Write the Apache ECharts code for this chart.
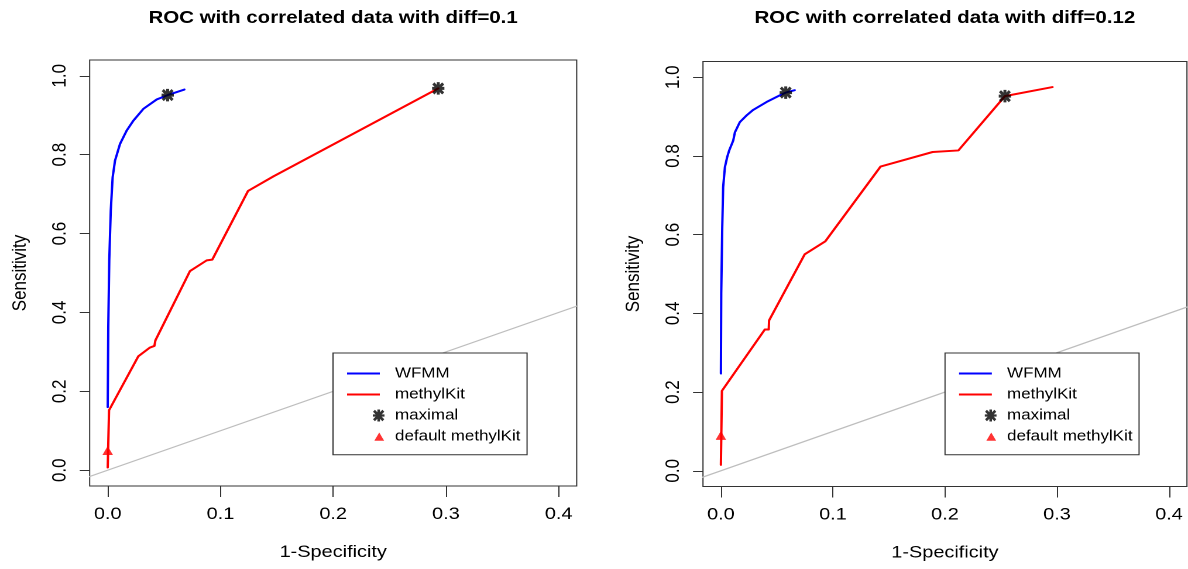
<!DOCTYPE html>
<html>
<head>
<meta charset="utf-8">
<script src="https://cdn.jsdelivr.net/npm/echarts@6.0.0/dist/echarts.min.js"></script>
<style>
  html, body { margin: 0; padding: 0; background: #fff; overflow: hidden; }
  /* the figure is laid out on a 1015px-wide stage and stretched to the window width */
  #stage { width: 1015px; height: 569px; transform: scaleX(1.17044); transform-origin: 0 0; }
</style>
</head>
<body>
<div id="stage"></div>
<script>
// ---- data -------------------------------------------------------------
const titles = ['ROC with correlated data with diff=0.1', 'ROC with correlated data with diff=0.12'];
const xTicks = [0, 0.1, 0.2, 0.3, 0.4];
const yTicks = [0, 0.2, 0.4, 0.6, 0.8, 1.0];
const legendNames = ['WFMM', 'methylKit', 'maximal', 'default methylKit'];

// panel 1 (diff = 0.1)
const wfmmFpr1 = [0.0000, 0.0005, 0.0014, 0.0027, 0.0044, 0.0065, 0.0109, 0.0168, 0.0227, 0.0316, 0.0435, 0.0532, 0.0680];
const wfmmTpr1 = [0.160, 0.363, 0.532, 0.658, 0.743, 0.785, 0.827, 0.861, 0.886, 0.916, 0.940, 0.951, 0.965];
const kitFpr1 = [0.0000, 0.0012, 0.0272, 0.0375, 0.0414, 0.0423, 0.0730, 0.0878, 0.0928, 0.1245, 0.1470, 0.2932];
const kitTpr1 = [0.007, 0.152, 0.289, 0.311, 0.315, 0.329, 0.505, 0.532, 0.534, 0.708, 0.745, 0.968];
const maxFpr1 = [0.0532, 0.2932];
const maxTpr1 = [0.951, 0.968];
const defFpr1 = [0.0];
const defTpr1 = [0.05];

// panel 2 (diff = 0.12)
const wfmmFpr2 = [0.0000, 0.0003, 0.0012, 0.0020, 0.0036, 0.0056, 0.0074, 0.0110, 0.0125, 0.0169, 0.0229, 0.0288, 0.0407, 0.0525, 0.0579, 0.0659];
const wfmmTpr2 = [0.247, 0.450, 0.619, 0.721, 0.772, 0.797, 0.814, 0.839, 0.860, 0.886, 0.903, 0.917, 0.937, 0.954, 0.961, 0.967];
const kitFpr2 = [0.0000, 0.0009, 0.0392, 0.0427, 0.0430, 0.0748, 0.0932, 0.1425, 0.1890, 0.2120, 0.2535, 0.2960];
const kitTpr2 = [0.015, 0.203, 0.359, 0.359, 0.382, 0.550, 0.583, 0.773, 0.810, 0.814, 0.952, 0.975];
const maxFpr2 = [0.0579, 0.2535];
const maxTpr2 = [0.961, 0.952];
const defFpr2 = [0.0];
const defTpr2 = [0.09];

// chance line y = x (clipped to the plot box)
const chanceX = [-1, 1];
const chanceY = [-1, 1];

// ---- styling ------------------------------------------------------------
const FONT = '"Liberation Sans", Arial, Helvetica, sans-serif';
const BLUE = '#0000ff', RED = '#ff0000', BLACK = '#000000', GREY = '#bebebe', FRAME = '#333333';

// asterisk (plus + cross) glyph
const STAR = 'path://M7.6,0h4.8v20h-4.8z M0,7.6h20v4.8h-20z M3.7,0.3L19.7,16.3L16.3,19.7L0.3,3.7z M16.3,0.3L19.7,3.7L3.7,19.7L0.3,16.3z';
// legend keys drawn inside a 36x14 box
const KEY_LINE = 'path://M0,0M36,14M0,6h28v2h-28z';
const KEY_STAR = 'path://M0,0M36,14M25.9,1h2.2v12h-2.2z M22,5.9h10v2.2h-10z M23.8,1.2L31.8,10.8L30.2,12.8L22.2,3.2z M30.2,1.2L31.8,3.2L23.8,12.8L22.2,10.8z';
const KEY_TRI = 'path://M0,0M36,14M27.5,3L31.7,11.2L23.3,11.2z';

const zip = (xs, ys) => xs.map((x, i) => [x, ys[i]]);

const panels = [
  { title: titles[0], cx: 284.6, grid: { left: 76.6, top: 60, width: 416.1, height: 426 }, legend: { left: 284.5, top: 353 },
    wfmm: zip(wfmmFpr1, wfmmTpr1), kit: zip(kitFpr1, kitTpr1), max: zip(maxFpr1, maxTpr1), def: zip(defFpr1, defTpr1) },
  { title: titles[1], cx: 807.3, grid: { left: 600.6, top: 61.5, width: 413.5, height: 425 }, legend: { left: 807.4, top: 353 },
    wfmm: zip(wfmmFpr2, wfmmTpr2), kit: zip(kitFpr2, kitTpr2), max: zip(maxFpr2, maxTpr2), def: zip(defFpr2, defTpr2) }
];

const axisText = { fontSize: 17, color: BLACK, fontFamily: FONT };
const fmt = v => Number(v).toFixed(1);

const option = {
  animation: false,
  backgroundColor: '#ffffff',
  title: [], grid: [], xAxis: [], yAxis: [], legend: [], series: []
};

panels.forEach((p, i) => {
  option.title.push({
    text: p.title, left: p.cx, top: 9, textAlign: 'center', padding: 0,
    textStyle: { fontSize: 17.5, fontWeight: 'bold', color: BLACK, fontFamily: FONT }
  });
  option.grid.push(Object.assign({
    show: true, borderColor: FRAME, borderWidth: 1, backgroundColor: 'transparent',
    containLabel: false, outerBoundsMode: 'none'
  }, p.grid));
  option.xAxis.push({
    type: 'value', gridIndex: i, min: -0.016, max: 0.416, position: 'bottom',
    axisLine: { show: false, onZero: false }, splitLine: { show: false },
    axisTick: { show: true, inside: false, length: 11, customValues: xTicks, lineStyle: { color: FRAME, width: 1 } },
    axisLabel: Object.assign({ customValues: xTicks, formatter: fmt, margin: 20 }, axisText),
    name: '1-Specificity', nameLocation: 'middle', nameGap: 58, nameTextStyle: axisText
  });
  option.yAxis.push({
    type: 'value', gridIndex: i, min: -0.04, max: 1.04, position: 'left',
    axisLine: { show: false, onZero: false }, splitLine: { show: false },
    axisTick: { show: true, inside: false, length: 8.5, customValues: yTicks, lineStyle: { color: FRAME, width: 1 } },
    axisLabel: Object.assign({ customValues: yTicks, formatter: fmt, rotate: 90, margin: 17 }, axisText),
    name: 'Sensitivity', nameLocation: 'middle', nameGap: 51, nameTextStyle: axisText
  });
  option.legend.push({
    show: true, orient: 'vertical', left: p.legend.left, top: p.legend.top,
    padding: [13, 5.6, 10.7, 12], itemGap: 6, itemWidth: 36, itemHeight: 14,
    backgroundColor: '#ffffff', borderColor: FRAME, borderWidth: 1, borderRadius: 0,
    selectedMode: false, z: 10,
    itemStyle: { borderWidth: 0 },
    textStyle: { fontSize: 14.5, color: BLACK, fontFamily: FONT },
    data: [
      { name: legendNames[0], icon: KEY_LINE, itemStyle: { color: BLUE } },
      { name: legendNames[1], icon: KEY_LINE, itemStyle: { color: RED } },
      { name: legendNames[2], icon: KEY_STAR, itemStyle: { color: BLACK } },
      { name: legendNames[3], icon: KEY_TRI, itemStyle: { color: RED } }
    ]
  });
  option.series.push(
    { type: 'line', name: 'chance', xAxisIndex: i, yAxisIndex: i, data: zip(chanceX, chanceY),
      symbol: 'none', silent: true, clip: true, z: 1, lineStyle: { color: GREY, width: 1.2 } },
    { type: 'line', name: legendNames[0], xAxisIndex: i, yAxisIndex: i, data: p.wfmm, color: BLUE,
      symbol: 'none', showSymbol: false, z: 2, lineStyle: { color: BLUE, width: 2, cap: 'round', join: 'round' } },
    { type: 'line', name: legendNames[1], xAxisIndex: i, yAxisIndex: i, data: p.kit, color: RED,
      symbol: 'none', showSymbol: false, z: 2, lineStyle: { color: RED, width: 2, cap: 'round', join: 'round' } },
    { type: 'scatter', name: legendNames[2], xAxisIndex: i, yAxisIndex: i, data: p.max, color: BLACK,
      symbol: STAR, symbolSize: [10.5, 12.5], symbolKeepAspect: false, z: 3, itemStyle: { color: BLACK } },
    { type: 'scatter', name: legendNames[3], xAxisIndex: i, yAxisIndex: i, data: p.def, color: RED,
      symbol: 'triangle', symbolSize: [9, 9], z: 3, itemStyle: { color: RED } }
  );
});

const chart = echarts.init(document.getElementById('stage'), null, { renderer: 'canvas', devicePixelRatio: 2, width: 1015, height: 569 });
chart.setOption(option);
</script>
</body>
</html>
